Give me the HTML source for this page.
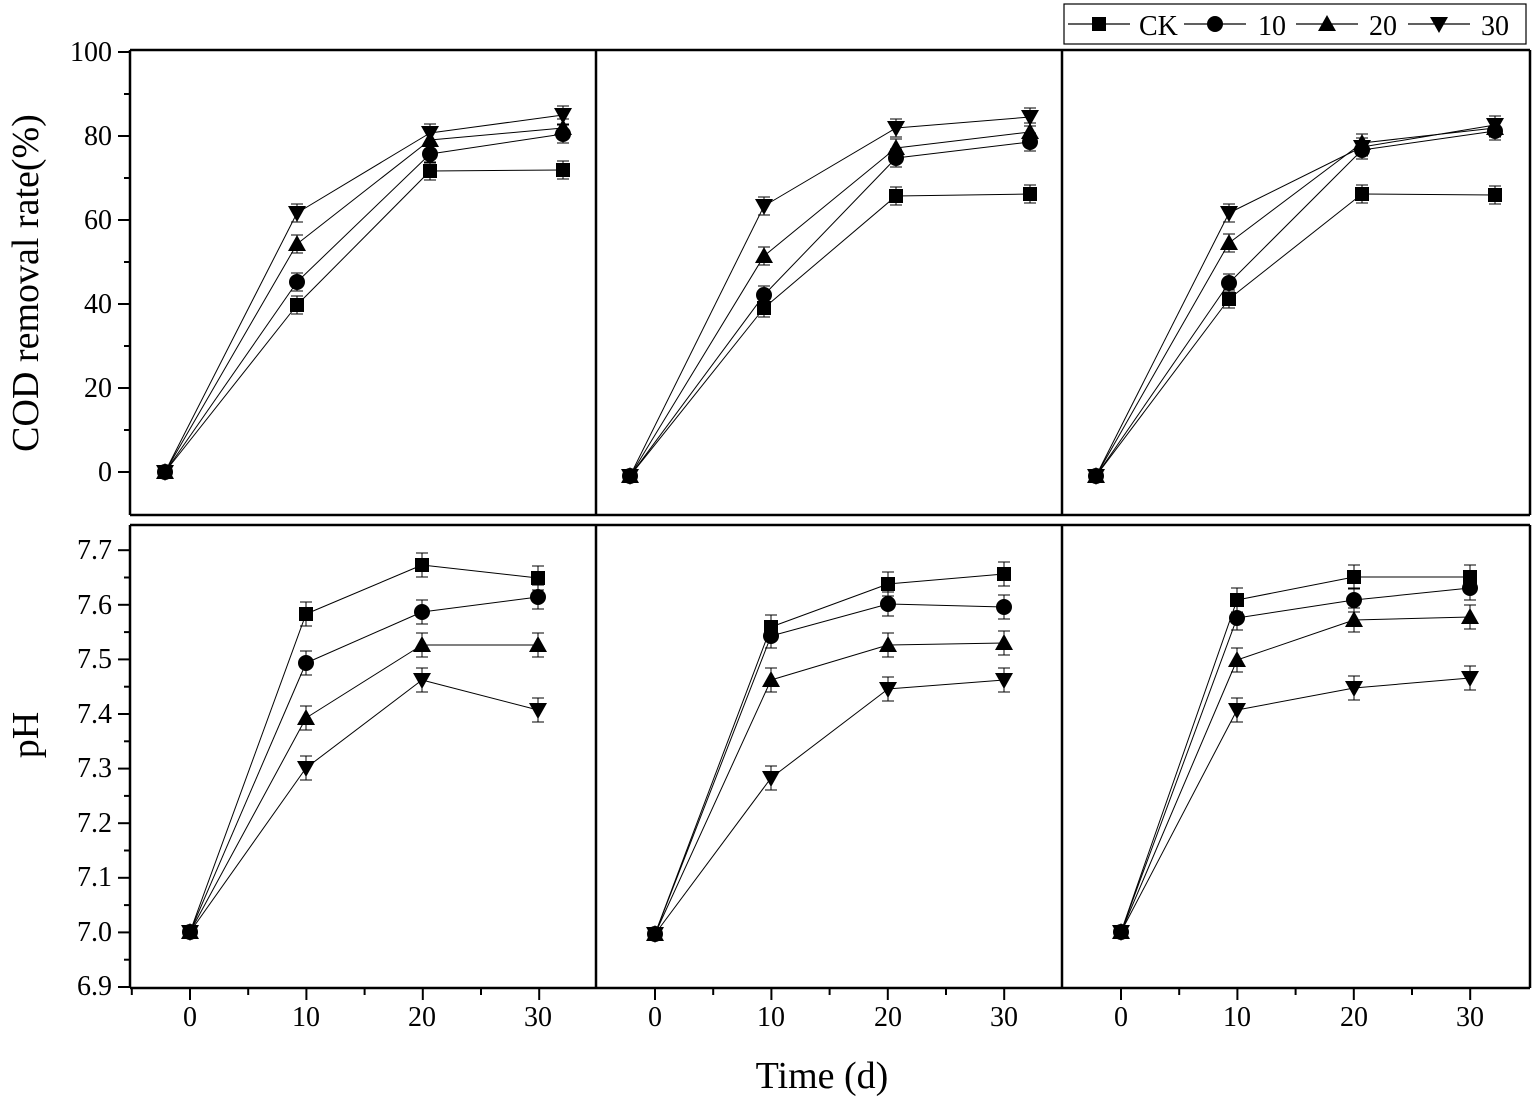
<!DOCTYPE html><html><head><style>body{margin:0;background:#fff}svg{display:block}text{font-family:"Liberation Serif",serif;fill:#000}.t{font-size:28px}</style></head><body>
<svg id="s" width="1535" height="1102" xmlns="http://www.w3.org/2000/svg">
<g class="t" text-anchor="end">
<text class="t" x="112" y="61">100</text><text class="t" x="112" y="145">80</text><text class="t" x="112" y="229">60</text><text class="t" x="112" y="313">40</text><text class="t" x="112" y="397">20</text><text class="t" x="112" y="481">0</text>
<text class="t" x="112" y="559">7.7</text><text class="t" x="112" y="614">7.6</text><text class="t" x="112" y="668">7.5</text><text class="t" x="112" y="723">7.4</text><text class="t" x="112" y="777">7.3</text><text class="t" x="112" y="832">7.2</text><text class="t" x="112" y="886">7.1</text><text class="t" x="112" y="941">7.0</text><text class="t" x="112" y="995">6.9</text>
</g>
<g text-anchor="middle">
<text class="t" x="190" y="1026">0</text><text class="t" x="306" y="1026">10</text><text class="t" x="422" y="1026">20</text><text class="t" x="538" y="1026">30</text>
<text class="t" x="655" y="1026">0</text><text class="t" x="771" y="1026">10</text><text class="t" x="888" y="1026">20</text><text class="t" x="1004" y="1026">30</text>
<text class="t" x="1121" y="1026">0</text><text class="t" x="1237" y="1026">10</text><text class="t" x="1354" y="1026">20</text><text class="t" x="1470" y="1026">30</text>
</g>
<text x="822" y="1088" style="font-size:38px" text-anchor="middle">Time (d)</text>
<text transform="translate(38,283) rotate(-90)" style="font-size:38px" text-anchor="middle">COD removal rate(%)</text>
<text transform="translate(38,735) rotate(-90)" style="font-size:38px" text-anchor="middle">pH</text>
<rect x="1064" y="4" width="462" height="40" fill="none" stroke="#000" stroke-width="1.2"/>
<g style="font-size:28px"><text x="1139" y="35">CK</text><text x="1258" y="35">10</text><text x="1369" y="35">20</text><text x="1481" y="35">30</text></g>
<g id="g"></g>
</svg>
<script>
var g=document.getElementById('g'),h='';
function L(a,b,c,d,w){h+=`<line x1="${a}" y1="${b}" x2="${c}" y2="${d}" stroke="#000" stroke-width="${w||1.2}"/>`;}
function M(t,x,y){
 if(t==0)h+=`<rect x="${x-7}" y="${y-7}" width="14" height="14"/>`;
 else if(t==1)h+=`<circle cx="${x}" cy="${y}" r="8"/>`;
 else if(t==2)h+=`<polygon points="${x},${y-9} ${x+9},${y+7} ${x-9},${y+7}"/>`;
 else h+=`<polygon points="${x},${y+9} ${x+9},${y-7} ${x-9},${y-7}"/>`;}
var X=[130,596,1062,1530];
L(130,50,1530,50,2.5);L(130,515,1530,515,2.5);L(130,525,1530,525,2.5);L(130,988,1530,988,2.5);
for(var i=0;i<4;i++){L(X[i],50,X[i],515,2.5);L(X[i],525,X[i],988,2.5);}
for(var v=0;v<=100;v+=10){var y=472-v*4.2;L(v%20?124:118,y,130,y,2);}
for(var k=0;k<=16;k++){var y=987-k*27.3;L(k%2?124:118,y,130,y,2);}
var x0=[190,655,1121];
for(var p=0;p<3;p++)for(var k=-1;k<=6;k++){var x=x0[p]+k*58.2;if(x<=X[p]+1||x>=X[p+1]-1)continue;L(x,988,x,k%2?995:1000,2);}
var lx=[1068,1184,1296,1408];for(var i=0;i<4;i++){L(lx[i],24,lx[i]+62,24,1.2);M(i,lx[i]+31,24);}
var tx=[[165,297,430,563],[630,764,896,1030],[1096,1229,1362,1495]];
var bx=[[190,306,422,538],[655,771,888,1004],[1121,1237,1354,1470]];
var T=[[[472,305,171,170],[472,282,154,134],[472,244,140,128],[472,213,133,115]],
[[476,308,196,194],[476,295,158,142],[476,256,148,132],[476,206,128,117]],
[[476,299,194,195],[476,283,150,131],[476,243,143,128],[476,213,147,125]]];
var B=[[[932,614,565,578],[932,663,612,597],[932,718,645,645],[932,768,680,710]],
[[934,627,584,574],[934,636,604,607],[934,680,645,643],[934,778,689,680]],
[[932,600,577,577],[932,618,600,588],[932,660,620,617],[932,710,688,678]]];
function S(xs,D,e){for(var s=0;s<4;s++){for(var i=0;i<3;i++)L(xs[i],D[s][i],xs[i+1],D[s][i+1],1);
 for(var i=1;i<4;i++){L(xs[i],D[s][i]-e,xs[i],D[s][i]+e,1);L(xs[i]-6,D[s][i]-e,xs[i]+6,D[s][i]-e,1);L(xs[i]-6,D[s][i]+e,xs[i]+6,D[s][i]+e,1);}}
 for(var s=0;s<4;s++)for(var i=0;i<4;i++)M(s,xs[i],D[s][i]);}
for(var p=0;p<3;p++){S(tx[p],T[p],9);S(bx[p],B[p],12);}
g.innerHTML=h;
</script></body></html>
